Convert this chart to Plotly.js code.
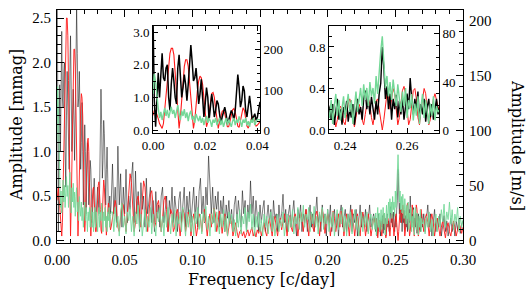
<!DOCTYPE html>
<html><head><meta charset="utf-8">
<script src="https://cdn.plot.ly/plotly-3.0.1.min.js"></script>
<style>html,body{margin:0;padding:0;background:#fff;}#chart{width:529px;height:291px;}</style>
</head><body><div id="chart"></div>
<script>
// Frequency grid segments [c/day]: start and step of each block of samples
const segLowStart = 0.0,   segLowStep = 0.0005;
const segMidStart = 0.041, segMidStep = 0.001;
const segPeakStart = 0.235, segPeakStep = 0.0005;
const segTailStart = 0.271, segTailStep = 0.001;

// Black series (photometry, mmag)
const blackLow = [3.5,0.9,0.1,1.1,1.75,1.0,1.8,2.35,1.6,1.5,1.9,2.0,1.0,0.6,1.4,1.9,1.5,1.0,0.8,1.9,2.3,1.7,1.0,1.3,1.7,1.4,0.9,1.4,2.0,2.6,2.1,1.5,1.6,1.9,1.4,0.8,1.1,1.55,1.0,0.4,0.8,1.3,1.0,0.3,0.7,1.1,0.8,0.4,0.6,0.9,0.8,0.5,0.2,0.4,0.55,0.7,0.5,0.2,0.3,0.5,0.6,0.5,0.3,0.6,1.2,1.7,1.3,0.7,0.9,1.35,1.2,0.6,0.4,0.8,1.05,0.7,0.3,0.4,0.5,0.3,0.4];
const blackMid = [0.86,0.3,0.6,0.2,1.06,0.4,0.75,0.15,0.6,0.3,0.8,0.2,0.5,0.35,0.7,0.88,0.2,0.78,0.3,0.55,0.1,0.65,0.35,0.5,0.15,0.7,0.3,0.45,0.6,0.2,0.45,0.1,0.55,0.25,0.4,0.15,0.5,0.6,0.2,0.35,0.5,0.1,0.45,0.3,0.6,0.2,0.5,0.35,0.1,0.45,0.55,0.2,0.4,0.6,0.15,0.5,0.3,0.55,0.2,0.45,0.6,0.25,0.5,0.15,0.55,0.7,0.3,0.5,0.2,0.6,0.4,0.95,0.5,0.3,0.6,0.2,0.5,0.35,0.55,0.15,0.45,0.3,0.5,0.1,0.4,0.25,0.45,0.2,0.35,0.1,0.4,0.5,0.2,0.45,0.3,0.15,0.56,0.3,0.45,0.1,0.4,0.25,0.67,0.3,0.5,0.15,0.45,0.3,0.1,0.4,0.2,0.35,0.45,0.1,0.3,0.4,0.2,0.35,0.1,0.45,0.25,0.3,0.1,0.4,0.2,0.3,0.52,0.2,0.35,0.1,0.3,0.4,0.15,0.3,0.45,0.2,0.05,0.35,0.25,0.4,0.1,0.3,0.2,0.35,0.1,0.25,0.4,0.15,0.3,0.1,0.35,0.49,0.2,0.3,0.1,0.4,0.2,0.3,0.05,0.35,0.2,0.4,0.1,0.25,0.35,0.15,0.3,0.05,0.3,0.4,0.15,0.25,0.35,0.1,0.3,0.2,0.4,0.1,0.3,0.2,0.35,0.05,0.25,0.4,0.15,0.3,0.2,0.35,0.1,0.3,0.4,0.15,0.25,0.3];
const blackPeak = [0.2,0.1,0.25,0.05,0.18,0.3,0.1,0.2,0.05,0.22,0.15,0.28,0.08,0.2,0.12,0.25,0.05,0.18,0.3,0.15,0.22,0.1,0.3,0.38,0.2,0.3,0.15,0.32,0.2,0.1,0.28,0.15,0.35,0.45,0.8,0.6,0.3,0.42,0.2,0.35,0.1,0.3,0.2,0.34,0.12,0.28,0.15,0.3,0.1,0.25,0.35,0.2,0.5,0.3,0.15,0.3,0.2,0.37,0.1,0.25,0.15,0.3,0.08,0.22,0.3,0.12,0.25,0.1,0.2,0.3,0.15];
const blackTail = [0.3,0.1,0.25,0.4,0.15,0.3,0.05,0.2,0.35,0.1,0.25,0.15,0.3,0.05,0.2,0.28,0.1,0.22,0.05,0.18,0.25,0.1,0.2,0.05,0.22,0.12,0.25,0.08,0.18,0.22];

// Red series (photometry, mmag)
const redLow = [0.45,0.6,0.6,0.5,0.35,0.2,0.1,0.05,0.2,0.6,1.1,1.6,2.0,2.35,2.5,2.5,2.3,1.8,1.2,0.55,0.05,0.4,1.0,1.55,1.95,2.15,2.15,1.95,1.5,0.95,0.4,0.05,0.3,0.8,1.2,1.5,1.65,1.6,1.4,1.0,0.5,0.1,0.25,0.6,0.95,1.12,1.15,1.0,0.65,0.25,0.05,0.25,0.45,0.57,0.6,0.5,0.3,0.1,0.1,0.3,0.5,0.62,0.66,0.55,0.35,0.12,0.08,0.3,0.55,0.68,0.6,0.35,0.12,0.06,0.2,0.35,0.42,0.38,0.25,0.12,0.15];
const redMid = [0.25,0.4,0.45,0.35,0.15,0.1,0.3,0.42,0.4,0.25,0.1,0.3,0.6,0.75,0.65,0.35,0.1,0.2,0.45,0.5,0.35,0.15,0.45,0.67,0.6,0.3,0.1,0.3,0.52,0.56,0.4,0.15,0.2,0.4,0.45,0.3,0.1,0.25,0.45,0.5,0.35,0.1,0.2,0.35,0.3,0.1,0.15,0.3,0.35,0.2,0.05,0.2,0.35,0.3,0.1,0.2,0.32,0.25,0.05,0.2,0.3,0.2,0.05,0.15,0.3,0.25,0.1,0.25,0.35,0.2,0.05,0.2,0.3,0.15,0.25,0.36,0.3,0.1,0.2,0.33,0.25,0.08,0.2,0.3,0.2,0.05,0.15,0.25,0.2,0.05,0.12,0.2,0.1,0.03,0.1,0.12,0.05,0.1,0.03,0.08,0.12,0.05,0.1,0.15,0.05,0.1,0.04,0.12,0.08,0.15,0.05,0.12,0.2,0.1,0.05,0.18,0.25,0.15,0.05,0.2,0.27,0.15,0.05,0.18,0.25,0.12,0.2,0.3,0.2,0.05,0.2,0.28,0.15,0.1,0.25,0.3,0.2,0.05,0.2,0.32,0.25,0.1,0.25,0.35,0.2,0.05,0.22,0.3,0.15,0.1,0.28,0.33,0.2,0.05,0.25,0.35,0.25,0.08,0.2,0.3,0.22,0.05,0.2,0.33,0.25,0.1,0.2,0.3,0.15,0.33,0.25,0.05,0.2,0.3,0.2,0.05,0.25,0.35,0.2,0.05,0.2,0.3,0.15,0.05,0.25,0.32,0.2,0.05,0.2,0.3,0.2,0.05,0.15,0.25];
const redPeak = [0.2,0.25,0.22,0.12,0.03,0.1,0.2,0.23,0.18,0.08,0.05,0.15,0.25,0.3,0.25,0.12,0.03,0.12,0.22,0.25,0.2,0.1,0.05,0.15,0.25,0.3,0.25,0.12,0.05,0.15,0.28,0.3,0.2,0.08,0.0,0.1,0.25,0.35,0.33,0.2,0.3,0.4,0.35,0.2,0.05,0.12,0.28,0.38,0.42,0.35,0.2,0.05,0.1,0.25,0.38,0.4,0.3,0.12,0.05,0.2,0.32,0.4,0.35,0.2,0.05,0.1,0.22,0.3,0.35,0.28,0.2];
const redTail = [0.1,0.25,0.3,0.2,0.05,0.22,0.3,0.2,0.05,0.18,0.25,0.15,0.05,0.15,0.22,0.12,0.03,0.15,0.2,0.1,0.05,0.15,0.22,0.15,0.05,0.12,0.2,0.15,0.08,0.15];

// Green series (radial velocity, m/s)
const greenLow = [90,140,120,75,55,30,45,25,40,55,35,50,30,45,58,40,50,30,52,62,40,25,48,35,52,30,44,22,40,48,26,35,18,40,30,22,35,18,30,12,26,35,18,30,22,8,26,18,30,12,22,30,12,26,8,22,30,12,26,18,8,22,30,12,26,18,34,22,8,26,18,30,12,22,8,26,18,30,12,22,26];
const greenMid = [26,8,30,12,22,4,26,34,12,22,6,26,18,30,8,22,4,26,15,32,10,24,4,19,28,8,22,12,30,6,24,15,4,26,17,30,8,22,4,26,12,30,17,6,24,12,28,4,22,15,26,8,30,17,4,24,12,28,8,22,4,26,15,30,10,24,6,26,17,31,10,22,4,24,15,29,8,26,17,6,24,12,28,8,22,4,26,15,24,8,19,4,24,12,28,6,22,15,30,8,26,17,33,10,24,4,22,12,26,8,19,4,24,12,22,6,17,26,8,22,4,15,24,8,19,12,26,4,17,24,8,22,12,28,6,22,15,30,10,26,17,32,12,24,19,30,8,26,15,31,12,22,6,26,17,30,10,24,15,28,8,22,12,26,4,19,28,10,24,15,30,8,22,4,24,12,26,6,19,28,10,22,4,17,26,8,22,12,26,6,19,24,10,22];
const greenPeak = [10,25,5,20,30,12,25,8,18,28,10,22,30,15,25,5,20,32,15,28,35,20,38,25,35,20,40,28,35,22,45,30,50,66,78,60,35,45,28,40,25,42,30,20,38,25,15,32,20,35,10,25,18,30,8,22,12,28,5,20,30,10,25,15,5,22,12,28,8,20,15];
const greenTail = [18,6,22,12,26,8,19,4,15,24,8,22,12,28,17,33,12,26,19,35,15,28,10,24,17,30,8,22,12,19];

function grid(start, step, n) {
  return Array.from({length: n}, (_, i) => +(start + i * step).toFixed(5));
}
const freq = grid(segLowStart, segLowStep, blackLow.length)
  .concat(grid(segMidStart, segMidStep, blackMid.length))
  .concat(grid(segPeakStart, segPeakStep, blackPeak.length))
  .concat(grid(segTailStart, segTailStep, blackTail.length));
const black = blackLow.concat(blackMid, blackPeak, blackTail);
const red = redLow.concat(redMid, redPeak, redTail);
const green = greenLow.concat(greenMid, greenPeak, greenTail);

const W = 529, H = 291;
const px = v => v / W;
const py = v => (H - v) / H;
const serif = 'Liberation Serif';
const tickFont = {family: serif, size: 15, color: '#000'};
const insetFont = {family: serif, size: 13, color: '#000'};

function axisBase(extra) {
  return Object.assign({
    showline: true, linecolor: '#000', linewidth: 1,
    ticks: 'inside', tickcolor: '#000', tickwidth: 1, ticklen: 6,
    showgrid: false, zeroline: false, fixedrange: true
  }, extra);
}

const GREEN = '#74d897', RED = '#ff1a1a', BLACK = '#000000';

const traces = [
  {x: freq, y: green, xaxis: 'x', yaxis: 'y2', mode: 'lines', line: {color: GREEN, width: 0.9}},
  {x: freq, y: black, xaxis: 'x', yaxis: 'y', mode: 'lines', line: {color: BLACK, width: 0.6}, opacity: 0.85},
  {x: freq, y: red, xaxis: 'x', yaxis: 'y', mode: 'lines', line: {color: RED, width: 0.9}},
  {x: freq, y: green, xaxis: 'x2', yaxis: 'y4', mode: 'lines', line: {color: GREEN, width: 1.4}},
  {x: freq, y: red, xaxis: 'x2', yaxis: 'y3', mode: 'lines', line: {color: RED, width: 1.1}},
  {x: freq, y: black, xaxis: 'x2', yaxis: 'y3', mode: 'lines', line: {color: BLACK, width: 1.5}},
  {x: freq, y: green, xaxis: 'x3', yaxis: 'y6', mode: 'lines', line: {color: GREEN, width: 1.4}},
  {x: freq, y: red, xaxis: 'x3', yaxis: 'y5', mode: 'lines', line: {color: RED, width: 1.0}},
  {x: freq, y: black, xaxis: 'x3', yaxis: 'y5', mode: 'lines', line: {color: BLACK, width: 1.4}}
];

const mainY = [py(243), py(10)];
const insetY = [py(133), py(25.5)];

const layout = {
  width: W, height: H, margin: {l: 0, r: 0, t: 0, b: 0},
  paper_bgcolor: '#fff', plot_bgcolor: '#fff', showlegend: false,
  font: {family: serif, color: '#000'},
  xaxis: axisBase({domain: [px(57), px(463)], anchor: 'y', range: [0, 0.3], dtick: 0.05, tick0: 0,
    tickformat: '.2f', mirror: 'ticks', ticklen: 7, tickfont: tickFont, ticklabelstandoff: 3,
    minor: {ticks: 'inside', ticklen: 4, dtick: 0.01, tickcolor: '#000'}}),
  yaxis: axisBase({domain: mainY, anchor: 'x', range: [-0.028, 2.59], dtick: 0.5, tick0: 0,
    tickformat: '.1f', ticklen: 7, tickfont: tickFont, ticklabelstandoff: 2,
    minor: {ticks: 'inside', ticklen: 4, dtick: 0.1, tickcolor: '#000'}}),
  yaxis2: axisBase({overlaying: 'y', anchor: 'x', side: 'right', range: [-2.3, 209.6], dtick: 50, tick0: 0,
    ticklen: 7, tickfont: tickFont, ticklabelstandoff: 2,
    minor: {ticks: 'inside', ticklen: 4, dtick: 10, tickcolor: '#000'}}),
  xaxis2: axisBase({domain: [px(153), px(260)], anchor: 'y3', range: [0, 0.041], dtick: 0.02, tick0: 0,
    tickformat: '.2f', mirror: 'ticks', ticklen: 5, tickfont: insetFont,
    minor: {ticks: 'inside', ticklen: 3, dtick: 0.005, tickcolor: '#000'}}),
  yaxis3: axisBase({domain: insetY, anchor: 'x2', range: [-0.09, 3.2], dtick: 1, tick0: 0,
    tickformat: '.1f', ticklen: 5, tickfont: insetFont,
    minor: {ticks: 'inside', ticklen: 3, dtick: 0.25, tickcolor: '#000'}}),
  yaxis4: axisBase({overlaying: 'y3', anchor: 'x2', side: 'right', range: [-7.5, 261], dtick: 100, tick0: 0,
    ticklen: 5, tickfont: insetFont,
    minor: {ticks: 'inside', ticklen: 3, dtick: 20, tickcolor: '#000'}}),
  xaxis3: axisBase({domain: [px(329), px(439)], anchor: 'y5', range: [0.2348, 0.2703], dtick: 0.02, tick0: 0,
    tickformat: '.2f', mirror: 'ticks', ticklen: 5, tickfont: insetFont,
    minor: {ticks: 'inside', ticklen: 3, dtick: 0.005, tickcolor: '#000'}}),
  yaxis5: axisBase({domain: insetY, anchor: 'x3', range: [-0.029, 1.007], dtick: 0.4, tick0: 0,
    tickformat: '.1f', ticklen: 5, tickfont: insetFont,
    minor: {ticks: 'inside', ticklen: 3, dtick: 0.1, tickcolor: '#000'}}),
  yaxis6: axisBase({overlaying: 'y5', anchor: 'x3', side: 'right', range: [-2.5, 87], dtick: 40, tick0: 0,
    ticklen: 5, tickfont: insetFont,
    minor: {ticks: 'inside', ticklen: 3, dtick: 10, tickcolor: '#000'}}),
  annotations: [
    {text: 'Frequency [c/day]', xref: 'paper', yref: 'paper', x: px(261), y: py(279),
      xanchor: 'center', yanchor: 'middle',
      showarrow: false, font: {family: 'DejaVu Serif', size: 16, color: '#000'}},
    {text: 'Amplitude [mmag]', xref: 'paper', yref: 'paper', x: px(16), y: py(125), textangle: -90,
      xanchor: 'center', yanchor: 'middle',
      showarrow: false, font: {family: 'DejaVu Serif', size: 16, color: '#000'}},
    {text: 'Amplitude [m/s]', xref: 'paper', yref: 'paper', x: px(518), y: py(145), textangle: 90,
      xanchor: 'center', yanchor: 'middle',
      showarrow: false, font: {family: 'DejaVu Serif', size: 16, color: '#000'}}
  ]
};

Plotly.newPlot('chart', traces, layout, {staticPlot: true, displayModeBar: false});
</script>
</body></html>
